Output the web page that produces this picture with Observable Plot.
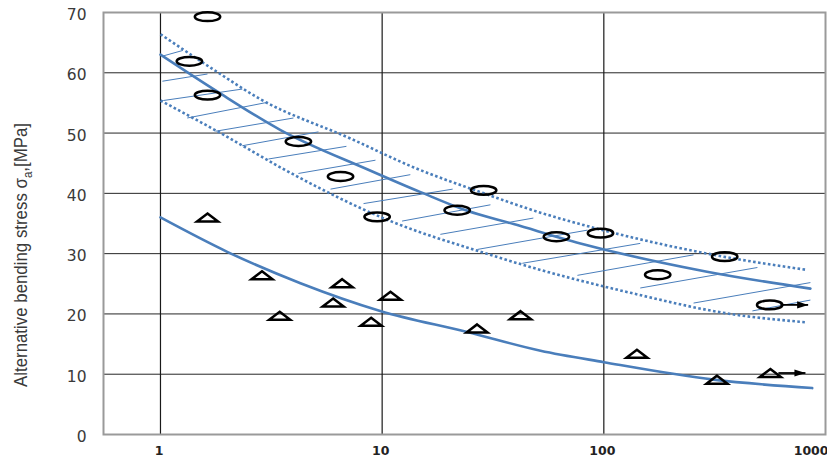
<!DOCTYPE html>
<html><head><meta charset="utf-8">
<script src="https://cdn.jsdelivr.net/npm/d3@7"></script>
<script src="https://cdn.jsdelivr.net/npm/@observablehq/plot@0.6"></script>
<style>body{margin:0;background:#fff}</style>
</head><body><div id="chart"></div>
<script>
// ---- data ----
const circleX = [1.63, 1.35, 1.63, 4.19, 6.49, 9.49, 21.8, 28.7, 61.1, 96.6, 175, 351, 560];
const circleY = [69.3, 61.9, 56.3, 48.6, 42.8, 36.1, 37.2, 40.5, 32.8, 33.4, 26.5, 29.5, 21.5];
const triX = [1.63, 2.87, 3.45, 6.6, 6.01, 8.92, 10.9, 26.8, 42.1, 141, 324, 564];
const triY = [36.0, 26.4, 19.7, 25.1, 21.9, 18.7, 23.0, 17.6, 19.8, 13.4, 9.1, 10.2];
// run-outs (arrows)
const runX1 = [626, 613];
const runX2 = [835, 812];
const runY = [21.5, 10.2];
// mean fit curve (circles)
const meanX = [1, 1.8, 3.48, 8.56, 14.9, 24.2, 39.2, 78.4, 292, 855];
const meanY = [63.0, 56.9, 50.5, 44.0, 40.2, 37.1, 34.9, 31.7, 27.0, 24.2];
// upper scatter bound
const upperX = [1, 1.74, 2.83, 7.19, 13.9, 27.8, 51.8, 96.6, 347, 826];
const upperY = [66.4, 60.5, 55.6, 49.1, 44.3, 40.2, 36.8, 34.0, 29.5, 27.3];
// lower scatter bound
const lowerX = [1, 1.93, 3.6, 10.9, 27.8, 51.8, 132, 372, 826];
const lowerY = [55.4, 49.7, 44.0, 35.4, 30.3, 27.3, 23.5, 20.0, 18.6];
// fit curve (triangles)
const triFitX = [1, 2.0, 4.28, 9.8, 24.2, 51.8, 100, 313, 871];
const triFitY = [36.0, 30.3, 25.1, 20.5, 17.0, 13.9, 12.0, 9.1, 7.7];
// hatching segments of the scatter band
const hatchX1 = [1.03, 1.02, 1.03, 1.32, 1.77, 2.34, 3.07, 4.19, 5.85, 8.24, 12.3, 18.3, 26.9, 42.9, 76.0, 146, 254, 468];
const hatchY1 = [62.8, 58.6, 55.4, 52.5, 50.3, 47.9, 45.7, 43.3, 40.7, 38.3, 35.4, 33.2, 30.7, 28.4, 26.4, 24.3, 21.8, 20.5];
const hatchX2 = [1.26, 1.63, 2.34, 3.04, 3.98, 5.16, 6.90, 9.33, 13.4, 20.8, 30.8, 48.1, 84.3, 146, 254, 493, 855, 855];
const hatchY2 = [63.7, 59.8, 57.3, 55.1, 52.5, 50.2, 47.8, 45.5, 43.1, 40.7, 38.1, 35.9, 33.9, 31.7, 29.8, 27.7, 25.2, 22.3];
// ticks
const yTicks = [0, 10, 20, 30, 40, 50, 60, 70];
const xGrid = [1, 10, 100];
const xLabels = [1, 10, 100];
const xLastLabel = [1000];
const yTitle = ["Alternative bending stress σ", "a", ",[MPa]"];

// ---- build tables ----
const zip = (xs, ys) => xs.map((x, i) => ({x, y: ys[i]}));
const circles = zip(circleX, circleY);
const tris = zip(triX, triY);
const mean = zip(meanX, meanY);
const upper = zip(upperX, upperY);
const lower = zip(lowerX, lowerY);
const triFit = zip(triFitX, triFitY);
const hatch = hatchX1.map((x1, i) => ({x1, y1: hatchY1[i], x2: hatchX2[i], y2: hatchY2[i]}));
const runs = runX1.map((x1, i) => ({x1, x2: runX2[i], y: runY[i]}));

const blue = "#4a7ebb";
const K = 0.5523;
const ellipse = {draw(c) {
  const rx = 12.7, ry = 4.4;
  c.moveTo(rx, 0);
  c.bezierCurveTo(rx, ry * K, rx * K, ry, 0, ry);
  c.bezierCurveTo(-rx * K, ry, -rx, ry * K, -rx, 0);
  c.bezierCurveTo(-rx, -ry * K, -rx * K, -ry, 0, -ry);
  c.bezierCurveTo(rx * K, -ry, rx, -ry * K, rx, 0);
  c.closePath();
}};
const triangle = {draw(c) {
  c.moveTo(0, -4); c.lineTo(10.5, 4); c.lineTo(-10.5, 4); c.closePath();
}};
const head = {draw(c) {
  c.moveTo(0, 0); c.lineTo(-11, -3.6); c.lineTo(-11, 3.6); c.closePath();
}};
const fmt = d => String(d);
const dotted = {stroke: blue, strokeWidth: 2.6, strokeDasharray: "2.6,2.4", strokeLinecap: "butt", curve: "monotone-x"};

const chart = Plot.plot({
  width: 827, height: 461,
  marginLeft: 103, marginRight: 2, marginTop: 12, marginBottom: 27,
  x: {type: "log", domain: [0.5533, 1000]},
  y: {type: "linear", domain: [0, 70]},
  style: {fontFamily: "DejaVu Sans", background: "#fff", overflow: "hidden"},
  marks: [
    Plot.gridY(yTicks, {stroke: "#262626", strokeOpacity: 1, strokeWidth: 1}),
    Plot.gridX(xGrid, {stroke: "#1a1a1a", strokeOpacity: 1, strokeWidth: 1.2}),
    Plot.frame({stroke: "#9a9a9a", strokeWidth: 2}),
    Plot.link(hatch, {x1: "x1", y1: "y1", x2: "x2", y2: "y2", stroke: blue, strokeWidth: 1}),
    Plot.line(upper, {x: "x", y: "y", ...dotted}),
    Plot.line(lower, {x: "x", y: "y", ...dotted}),
    Plot.line(mean, {x: "x", y: "y", stroke: blue, strokeWidth: 2.6, curve: "monotone-x"}),
    Plot.line(triFit, {x: "x", y: "y", stroke: blue, strokeWidth: 2.6, curve: "monotone-x"}),
    Plot.link(runs, {x1: "x1", y1: "y", x2: "x2", y2: "y", stroke: "black", strokeWidth: 1.8}),
    Plot.dot(runs, {x: "x2", y: "y", symbol: head, fill: "black", stroke: "none"}),
    Plot.dot(circles, {x: "x", y: "y", symbol: ellipse, fill: "none", stroke: "black", strokeWidth: 2.5}),
    Plot.dot(tris, {x: "x", y: "y", symbol: triangle, fill: "none", stroke: "black", strokeWidth: 2.5, strokeLinejoin: "miter"}),
    Plot.axisY(yTicks, {tickSize: 0, tickPadding: 17, fontSize: 15.5, dy: 2.5, color: "#3a3a3a", tickFormat: fmt, label: null}),
    Plot.axisX(xLabels, {tickSize: 0, tickPadding: 12, fontSize: 12.5, fontWeight: "bold", dx: -1.5, color: "#222", tickFormat: fmt, label: null}),
    Plot.axisX(xLastLabel, {tickSize: 0, tickPadding: 12, fontSize: 12.5, fontWeight: "bold", textAnchor: "end", dx: 3, color: "#222", tickFormat: fmt, label: null})
  ]
});

const svg = d3.select(chart);
const t = svg.append("text")
  .attr("transform", "translate(27,255) rotate(-90)")
  .attr("text-anchor", "middle")
  .attr("font-family", "Liberation Sans")
  .attr("font-size", 19)
  .attr("fill", "#3a3a3a")
  .attr("textLength", 264)
  .attr("lengthAdjust", "spacingAndGlyphs");
t.append("tspan").text(yTitle[0]);
t.append("tspan").attr("font-size", 13).attr("dy", 5).text(yTitle[1]);
t.append("tspan").attr("dy", -5).text(yTitle[2]);

document.getElementById("chart").appendChild(chart);
</script>
</body></html>
